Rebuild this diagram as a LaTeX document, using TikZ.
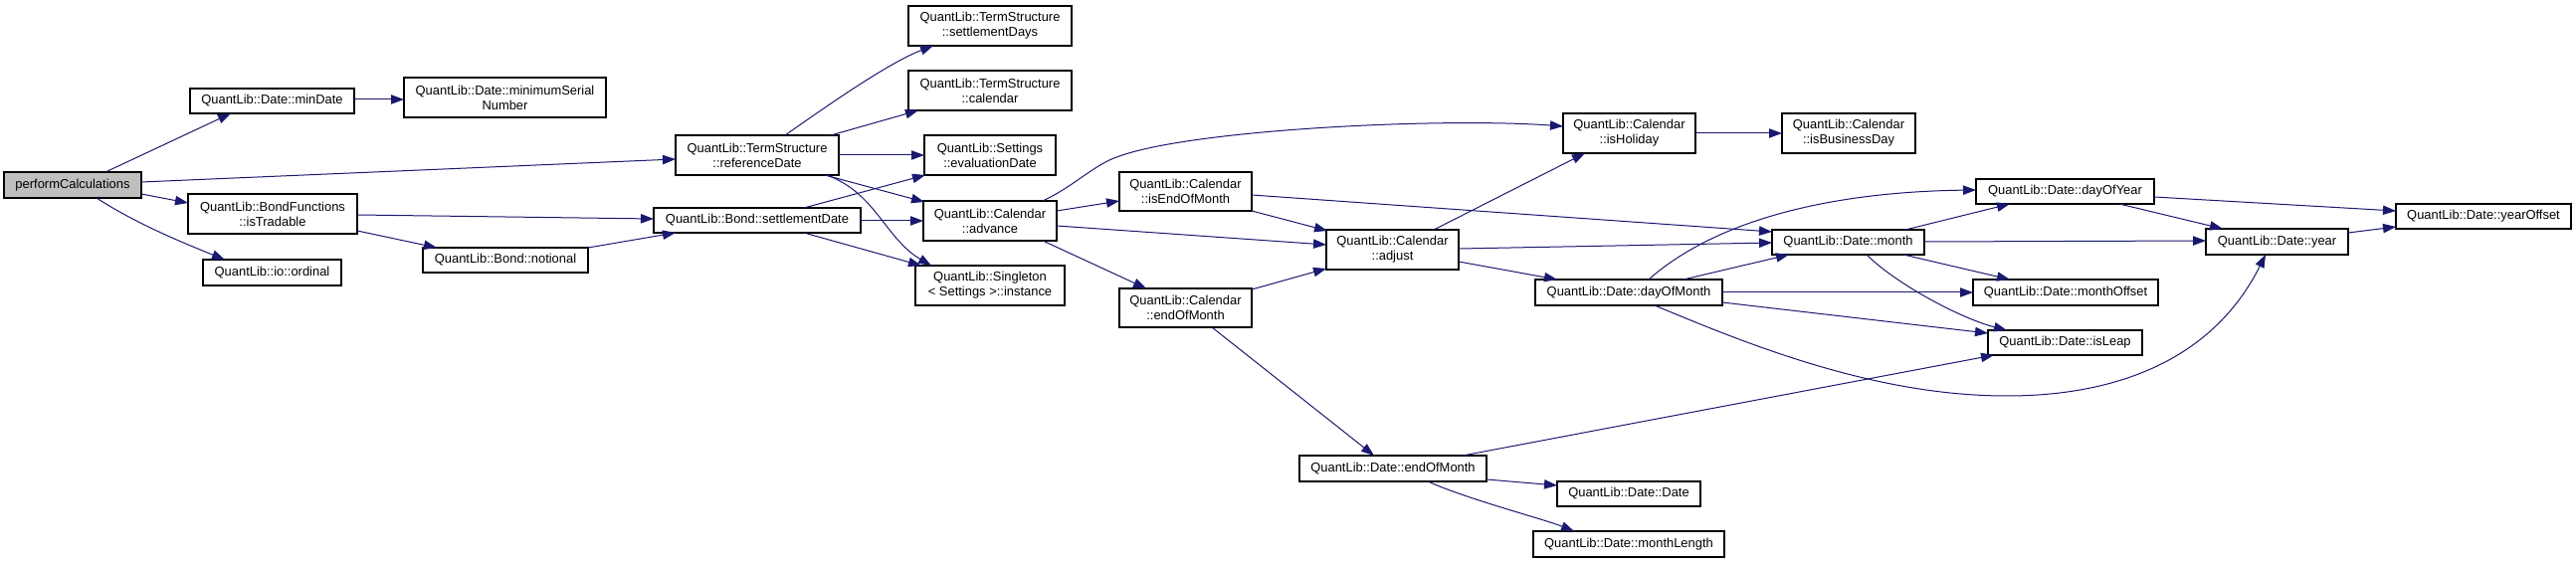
\documentclass[tikz,border=0pt]{standalone}
\usepackage{fontspec}
\setmainfont{Liberation Sans}
\usetikzlibrary{arrows.meta,calc}
\definecolor{edgecol}{HTML}{191970}
\definecolor{rootfill}{HTML}{BFBFBF}
\tikzset{
  box/.style={draw=black, line width=0.8pt, fill=white, inner sep=0pt, outer sep=0pt,
    align=center, font=\fontsize{9.7pt}{11.25pt}\selectfont},
  calledge/.style={draw=edgecol, line width=0.75pt, -{Triangle[length=9.75pt,width=7pt]}}
}
\newcommand\bx[7][]{\node[box,#1,minimum width={(#5-#3)*0.75pt},minimum height={(#6-#4)*0.75pt}] (#2) at ({(#3+#5)/2},{(#4+#6)/2}) {#7};}
\begin{document}
\begin{tikzpicture}[x=0.75pt,y=-0.75pt]
\fill[white] (0,0) rectangle (2589,566);
\useasboundingbox (0,0) rectangle (2589,566);
% nodes
\bx[fill=rootfill]{perf}{4}{173}{142}{199}{performCalculations}
\bx{minDate}{191}{89}{356}{114}{QuantLib::Date::minDate}
\bx{minSerial}{406}{78}{609}{118}{QuantLib::Date::minimumSerial\\Number}
\bx{isTradable}{189}{195}{359}{235}{QuantLib::BondFunctions\\::isTradable}
\bx{ordinal}{204}{261}{343}{287}{QuantLib::io::ordinal}
\bx{notional}{425}{249}{591}{274}{QuantLib::Bond::notional}
\bx{setDays}{913}{6}{1077}{46}{QuantLib::TermStructure\\::settlementDays}
\bx{tsCal}{913}{71}{1077}{111}{QuantLib::TermStructure\\::calendar}
\bx{refDate}{679}{136}{843}{176}{QuantLib::TermStructure\\::referenceDate}
\bx{evalDate}{929}{136}{1061}{176}{QuantLib::Settings\\::evaluationDate}
\bx{setDate}{657}{209}{865}{234}{QuantLib::Bond::settlementDate}
\bx{advance}{928}{202}{1062}{242}{QuantLib::Calendar\\::advance}
\bx{instance}{920}{267}{1070}{307}{QuantLib::Singleton\\< Settings >::instance}
\bx{isEOM}{1125}{173}{1258}{212}{QuantLib::Calendar\\::isEndOfMonth}
\bx{calEOM}{1125}{290}{1258}{329}{QuantLib::Calendar\\::endOfMonth}
\bx{isHoliday}{1571}{114}{1704}{154}{QuantLib::Calendar\\::isHoliday}
\bx{isBD}{1791}{114}{1925}{154}{QuantLib::Calendar\\::isBusinessDay}
\bx{adjust}{1333}{231}{1466}{271}{QuantLib::Calendar\\::adjust}
\bx{dom}{1543}{281}{1731}{307}{QuantLib::Date::dayOfMonth}
\bx{month}{1781}{231}{1934}{256}{QuantLib::Date::month}
\bx{doy}{1986}{180}{2165}{205}{QuantLib::Date::dayOfYear}
\bx{yoff}{2408}{205}{2584}{230}{QuantLib::Date::yearOffset}
\bx{year}{2217}{230}{2360}{256}{QuantLib::Date::year}
\bx{moff}{1983}{281}{2169}{307}{QuantLib::Date::monthOffset}
\bx{isLeap}{1998}{332}{2153}{357}{QuantLib::Date::isLeap}
\bx{dEOM}{1306}{458}{1494}{484}{QuantLib::Date::endOfMonth}
\bx{dDate}{1565}{484}{1709}{509}{QuantLib::Date::Date}
\bx{mLen}{1541}{534}{1733}{560}{QuantLib::Date::monthLength}
% edges
\draw[calledge] ($(perf.north west)+(102,0)$) -- ($(minDate.north west)+(41,25)$);
\draw[calledge] ($(perf.north west)+(138,10)$) -- ($(refDate.north west)+(0,24)$);
\draw[calledge] ($(perf.north west)+(138,22)$) -- ($(isTradable.north west)+(0,9)$);
\draw[calledge] ($(perf.north west)+(93,26)$) .. controls +(40,26) and +(-40,-16) .. ($(ordinal.north west)+(22,0)$);
\draw[calledge] ($(minDate.north west)+(165,11)$) -- ($(minSerial.north west)+(0,22)$);
\draw[calledge] ($(isTradable.north west)+(170,21)$) -- ($(setDate.north west)+(0,11)$);
\draw[calledge] ($(isTradable.north west)+(170,37)$) -- ($(notional.north west)+(14,0)$);
\draw[calledge] ($(notional.north west)+(166,0)$) -- ($(setDate.north west)+(22,25)$);
\draw[calledge] ($(refDate.north west)+(110,0)$) .. controls +(40,-28) and +(-45,17) .. ($(setDays.north west)+(25,40)$);
\draw[calledge] ($(refDate.north west)+(156,0)$) -- ($(tsCal.north west)+(10,40)$);
\draw[calledge] ($(refDate.north west)+(164,20)$) -- ($(evalDate.north west)+(0,20)$);
\draw[calledge] ($(refDate.north west)+(150,40)$) -- ($(advance.north west)+(1,1)$);
\draw[calledge] ($(refDate.north west)+(152,40)$) .. controls +(49,18) and +(-46,-27) .. ($(instance.north west)+(16,0)$);
\draw[calledge] ($(setDate.north west)+(151,0)$) -- ($(evalDate.north west)+(1,40)$);
\draw[calledge] ($(setDate.north west)+(208,13)$) -- ($(advance.north west)+(0,20)$);
\draw[calledge] ($(setDate.north west)+(151,25)$) -- ($(instance.north west)+(6,0)$);
\draw[calledge] ($(advance.north west)+(120,0)$) .. controls +(32,-15) and +(-25,8) .. ($(isEOM.north west)+(0,-16)$) .. controls +(75,-27) and +(-121,-9) .. ($(isHoliday.north west)+(0,13)$);
\draw[calledge] ($(advance.north west)+(134,10)$) -- ($(isEOM.north west)+(0,29)$);
\draw[calledge] ($(advance.north west)+(134,25)$) -- ($(adjust.north west)+(0,15)$);
\draw[calledge] ($(advance.north west)+(120,40)$) -- ($(calEOM.north west)+(27,0)$);
\draw[calledge] ($(isEOM.north west)+(133,39)$) -- ($(adjust.north west)+(1,1)$);
\draw[calledge] ($(isEOM.north west)+(133,23)$) -- ($(month.north west)+(0,2)$);
\draw[calledge] ($(calEOM.north west)+(133,1)$) -- ($(adjust.north west)+(0,39)$);
\draw[calledge] ($(calEOM.north west)+(93,39)$) -- ($(dEOM.north west)+(75,0)$);
\draw[calledge] ($(adjust.north west)+(108,0)$) -- ($(isHoliday.north west)+(22,40)$);
\draw[calledge] ($(adjust.north west)+(133,19)$) -- ($(month.north west)+(0,13)$);
\draw[calledge] ($(adjust.north west)+(133,32)$) -- ($(dom.north west)+(22,0)$);
\draw[calledge] ($(isHoliday.north west)+(133,20)$) -- ($(isBD.north west)+(0,20)$);
\draw[calledge] ($(dom.north west)+(114,0)$) .. controls +(63,-56) and +(-156,2) .. ($(doy.north west)+(0,11)$);
\draw[calledge] ($(dom.north west)+(149,0)$) -- ($(month.north west)+(17,25)$);
\draw[calledge] ($(dom.north west)+(188,13)$) -- ($(moff.north west)+(0,13)$);
\draw[calledge] ($(dom.north west)+(188,23)$) -- ($(isLeap.north west)+(0,3)$);
\draw[calledge] ($(dom.north west)+(120,26)$) .. controls +(100,42) and +(-130,0) .. ($(isLeap.north west)+(19,66)$) .. controls +(113,0) and +(-52,104) .. ($(year.north west)+(60,26)$);
\draw[calledge] ($(month.north west)+(134,0)$) -- ($(doy.north west)+(34,25)$);
\draw[calledge] ($(month.north west)+(153,12)$) -- ($(year.north west)+(0,12)$);
\draw[calledge] ($(month.north west)+(132,25)$) -- ($(moff.north west)+(37,0)$);
\draw[calledge] ($(month.north west)+(95,25)$) .. controls +(29,29) and +(-47,-12) .. ($(isLeap.north west)+(19,0)$);
\draw[calledge] ($(doy.north west)+(179,18)$) -- ($(yoff.north west)+(0,7)$);
\draw[calledge] ($(doy.north west)+(144,25)$) -- ($(year.north west)+(17,0)$);
\draw[calledge] ($(year.north west)+(143,4)$) -- ($(yoff.north west)+(0,23)$);
\draw[calledge] ($(dEOM.north west)+(164,0)$) -- ($(isLeap.north west)+(6,25)$);
\draw[calledge] ($(dEOM.north west)+(188,24)$) -- ($(dDate.north west)+(0,4)$);
\draw[calledge] ($(dEOM.north west)+(129,26)$) .. controls +(40,18) and +(-30,-12) .. ($(mLen.north west)+(41,0)$);
\end{tikzpicture}
\end{document}
